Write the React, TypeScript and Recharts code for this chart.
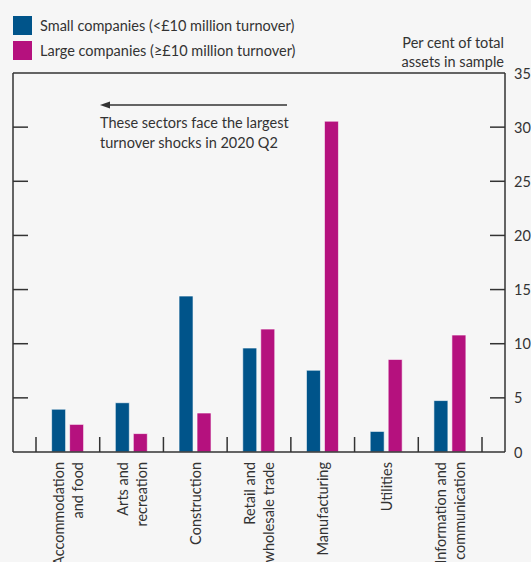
import React from "react";
import {
  Bar,
  BarChart,
  ReferenceLine,
  XAxis,
  YAxis,
} from "recharts";

const categories = [
  ["Accommodation", "and food"],
  ["Arts and", "recreation"],
  ["Construction"],
  ["Retail and", "wholesale trade"],
  ["Manufacturing"],
  ["Utilities"],
  ["Information and", "communication"],
];
const smallCompanies = [3.95, 4.55, 14.4, 9.6, 7.55, 1.9, 4.75];
const largeCompanies = [2.55, 1.7, 3.6, 11.35, 30.55, 8.55, 10.8];
const yTicks = [0, 5, 10, 15, 20, 25, 30, 35];

const SMALL = "#00548a";
const LARGE = "#b5117e";
const INK = "#333333";
const BG = "#f6f6f6";
const FONT = "Lato, 'Open Sans', sans-serif";
const FS = 14.5;

const data = categories.map((lines, i) => ({
  name: lines.join(" "),
  lines,
  small: smallCompanies[i],
  large: largeCompanies[i],
}));

const W = 531;
const H = 562;
const margin = { top: 73, right: 25, bottom: 109, left: 12 };
const plotLeft = 13;
const xPad = 23;
const band = (W - 13 - 26 - 2 * xPad) / categories.length;

function CategoryTick(props: any) {
  const { x, y, payload, index } = props;
  const lines: string[] = data[index]?.lines ?? [payload.value];
  const left = x - band / 2;
  const step = 19;
  return (
    <g>
      <line x1={left} x2={left} y1={y - 15} y2={y} stroke={INK} strokeWidth={1.5} />
      {index === categories.length - 1 && (
        <line x1={x + band / 2} x2={x + band / 2} y1={y - 15} y2={y} stroke={INK} strokeWidth={1.5} />
      )}
      {lines.map((line, i) => {
        const cx = x + (i - (lines.length - 1) / 2) * step;
        return (
          <text
            key={line}
            transform={`translate(${cx}, ${y + 10}) rotate(-90)`}
            textAnchor="end"
            dominantBaseline="central"
            fontSize={FS}
            fontFamily={FONT}
            fill={INK}
          >
            {line}
          </text>
        );
      })}
    </g>
  );
}

// right axis tick: label outside, short inward ticks on both sides of the frame
function ValueTick(props: any) {
  const { x, y, payload } = props;
  const inner = payload.value !== 0 && payload.value !== 35;
  return (
    <g>
      {inner && <line x1={x - 15} x2={x} y1={y} y2={y} stroke={INK} strokeWidth={1.5} />}
      {inner && (
        <line x1={plotLeft} x2={plotLeft + 15} y1={y} y2={y} stroke={INK} strokeWidth={1.5} />
      )}
      <text
        x={x + 9}
        y={y}
        dominantBaseline="central"
        fontSize={FS}
        fontFamily={FONT}
        fill={INK}
      >
        {payload.value}
      </text>
    </g>
  );
}

export default function App() {
  return (
    <div
      style={{
        position: "fixed",
        left: 0,
        top: 0,
        width: W,
        height: H,
        background: BG,
        fontFamily: FONT,
        color: INK,
        overflow: "hidden",
      }}
    >
      <div style={{ position: "absolute", left: 13, top: 13, fontSize: FS, lineHeight: "25px" }}>
        <div style={{ display: "flex", alignItems: "center", height: 25 }}>
          <span style={{ width: 19, height: 19, background: SMALL, marginRight: 8 }} />
          Small companies (&lt;£10 million turnover)
        </div>
        <div style={{ display: "flex", alignItems: "center", height: 25 }}>
          <span style={{ width: 19, height: 19, background: LARGE, marginRight: 8 }} />
          Large companies (≥£10 million turnover)
        </div>
      </div>
      <div
        style={{
          position: "absolute",
          right: 27,
          top: 33,
          fontSize: FS,
          lineHeight: "19px",
          textAlign: "right",
        }}
      >
        Per cent of total
        <br />
        assets in sample
      </div>
      <div style={{ position: "absolute", left: 100, top: 113, fontSize: FS, lineHeight: "20px" }}>
        These sectors face the largest
        <br />
        turnover shocks in 2020 Q2
      </div>
      <svg style={{ position: "absolute", left: 0, top: 0 }} width={W} height={H} pointerEvents="none">
        <line x1={108} x2={287} y1={105} y2={105} stroke={INK} strokeWidth={1.5} />
        <polygon points="100,105 110,101.5 110,108.5" fill={INK} />
      </svg>
      <div style={{ position: "absolute", left: 0, top: 0 }}>
        <BarChart
          width={W}
          height={H}
          data={data}
          margin={margin}
          barCategoryGap="24.5%"
          barGap={4}
        >
          <XAxis
            dataKey="name"
            height={1}
            interval={0}
            padding={{ left: xPad, right: xPad }}
            axisLine={{ stroke: INK, strokeWidth: 1.5 }}
            tickLine={false}
            tickSize={0}
            tickMargin={0}
            tick={<CategoryTick />}
          />
          <YAxis
            yAxisId="left"
            orientation="left"
            width={1}
            domain={[0, 35]}
            ticks={yTicks}
            axisLine={{ stroke: INK, strokeWidth: 1.5 }}
            tickLine={false}
            tick={false}
          />
          <YAxis
            yAxisId="right"
            orientation="right"
            width={1}
            domain={[0, 35]}
            ticks={yTicks}
            axisLine={{ stroke: INK, strokeWidth: 1.5 }}
            tickLine={false}
            tickSize={0}
            tickMargin={0}
            tick={<ValueTick />}
          />
          <ReferenceLine yAxisId="right" y={35} stroke={INK} strokeWidth={1.5} />
          <Bar
            yAxisId="right"
            dataKey="small"
            fill={SMALL}
            stroke="#ffffff"
            strokeOpacity={0.6}
            strokeWidth={1}
            isAnimationActive={false}
          />
          <Bar
            yAxisId="right"
            dataKey="large"
            fill={LARGE}
            stroke="#ffffff"
            strokeOpacity={0.6}
            strokeWidth={1}
            isAnimationActive={false}
          />
        </BarChart>
      </div>
    </div>
  );
}
